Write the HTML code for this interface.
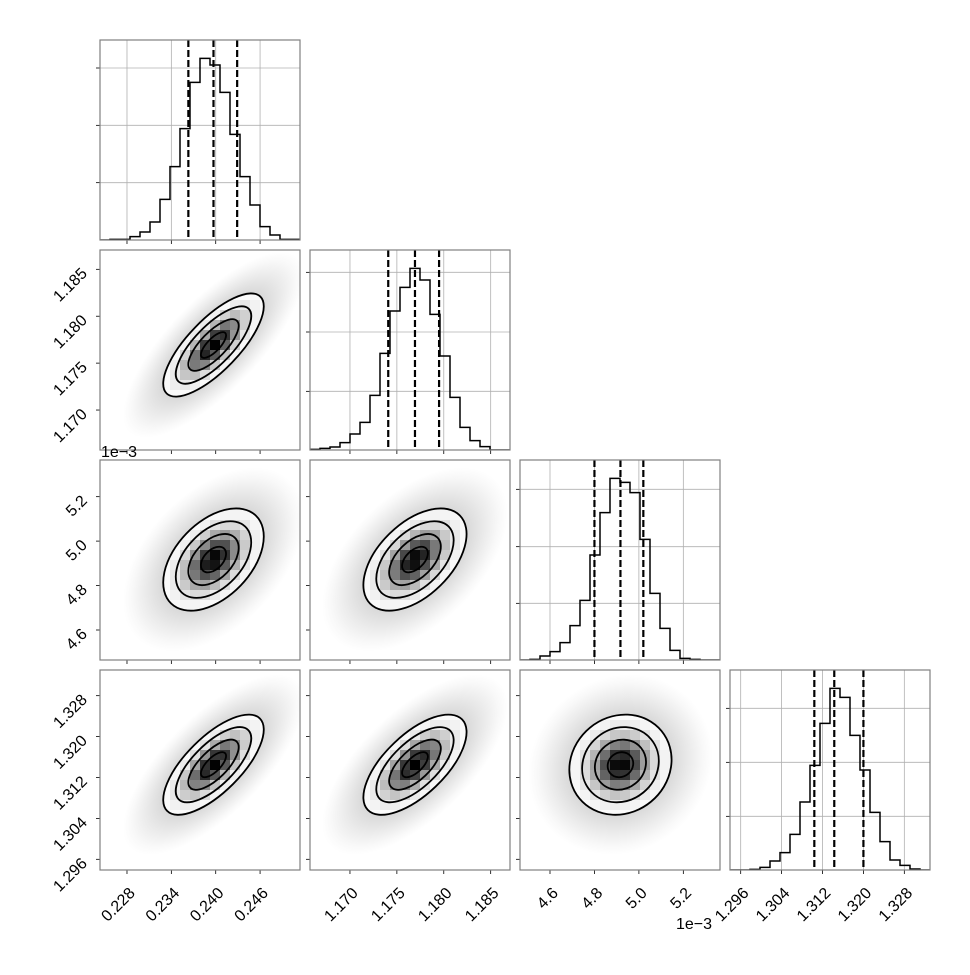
<!DOCTYPE html>
<html><head><meta charset="utf-8"><style>
body{margin:0;background:#fff}
#fig text{font-family:"Liberation Sans",sans-serif;font-size:16px;}
</style></head><body>
<svg id="fig" width="970" height="970" viewBox="0 0 970 970"></svg>
<script>
// ---- data ----
const lo = [0.22435, 1.16574, 4.465, 1.29391];
const hi = [0.25140, 1.18706, 5.365, 1.33302];
const ticks0 = [0.228, 0.234, 0.240, 0.246];
const ticks1 = [1.170, 1.175, 1.180, 1.185];
const ticks2 = [4.6, 4.8, 5.0, 5.2];
const ticks3 = [1.296, 1.304, 1.312, 1.320, 1.328];
const tickLabels0 = ["0.228","0.234","0.240","0.246"];
const tickLabels1 = ["1.170","1.175","1.180","1.185"];
const tickLabels2 = ["4.6","4.8","5.0","5.2"];
const tickLabels3 = ["1.296","1.304","1.312","1.320","1.328"];
const hist0 = [0,2,2,10,24,54,122,220,334,473,545,525,443,317,190,105,40,15,2,2];
const hist1 = [2,5,9,22,48,83,164,290,417,488,545,510,407,282,158,68,28,10,0,0];
const hist2 = [0,2,12,25,52,103,179,315,442,545,533,502,362,200,95,29,5,2,0,0];
const hist3 = [0,0,2,8,27,52,107,204,314,440,545,518,404,300,173,85,30,14,3,0];
const histYTicks0 = [172,344,516];
const histYTicks1 = [176,354,533];
const histYTicks2 = [170,340,512];
const histYTicks3 = [161,323,485];
const quant0 = [0.2363, 0.2397, 0.2429];
const quant1 = [1.17408, 1.17693, 1.1795];
const quant2 = [4.80, 4.917, 5.02];
const quant3 = [1.3104, 1.3143, 1.3200];
const means = [0.2397, 1.17693, 4.917, 1.3145];
const sds = [0.0034, 0.00275, 0.115, 0.0049];
const corr10 = 0.75, corr20 = 0.45, corr21 = 0.5, corr30 = 0.7, corr31 = 0.65, corr32 = 0.1;
const histMax = 600;
const contourLevels = [0.5, 1, 1.5, 2];

const ticks=[ticks0,ticks1,ticks2,ticks3], labels=[tickLabels0,tickLabels1,tickLabels2,tickLabels3];
const hists=[hist0,hist1,hist2,hist3], hyt=[histYTicks0,histYTicks1,histYTicks2,histYTicks3];
const quants=[quant0,quant1,quant2,quant3];
const corr=[[1,corr10,corr20,corr30],[corr10,1,corr21,corr31],[corr20,corr21,1,corr32],[corr30,corr31,corr32,1]];
const colX=[100,310,520,730], rowY=[40,250,460,670], S=200;
const NS="http://www.w3.org/2000/svg", svg=document.getElementById('fig');
function mk(tag,attrs,parent){const e=document.createElementNS(NS,tag);for(const k in attrs)e.setAttribute(k,attrs[k]);(parent||svg).appendChild(e);return e;}
function xs(j,v){return colX[j]+(v-lo[j])/(hi[j]-lo[j])*S;}
function ys(i,v){return rowY[i]+S-(v-lo[i])/(hi[i]-lo[i])*S;}
const TS='font-family:Liberation Sans,sans-serif;font-size:16px';
const defs=mk('defs',{});
const grad=mk('radialGradient',{id:'cloud'},defs);
[[0,0.4],[0.55,0.35],[0.75,0.18],[0.9,0.06],[1,0]].forEach(s=>mk('stop',{offset:s[0],'stop-color':'#909090','stop-opacity':s[1]},grad));

for(let i=0;i<4;i++){for(let j=0;j<=i;j++){
  const X=colX[j],Y=rowY[i];
  const g=mk('g',{});
  
  
  const cid='clip'+i+j;
  const cp=mk('clipPath',{id:cid},defs); mk('rect',{x:X,y:Y,width:S,height:S},cp);
  const inner=mk('g',{'clip-path':'url(#'+cid+')'},g);
  if(i===j){
    const h=hists[j];
    ticks[j].forEach(t=>mk('line',{x1:xs(j,t),x2:xs(j,t),y1:Y,y2:Y+S,stroke:'#b0b0b0','stroke-width':0.8},inner));
    hyt[j].forEach(t=>{const yy=Y+S-t/histMax*S;mk('line',{x1:X,x2:X+S,y1:yy,y2:yy,stroke:'#b0b0b0','stroke-width':0.8},inner);});
    let d='',bw=(hi[j]-lo[j])/h.length;
    h.forEach((c,k)=>{const x0=xs(j,lo[j]+k*bw),x1=xs(j,lo[j]+(k+1)*bw),yy=Y+S-c/histMax*S;d+=(k===0?'M'+x0+','+(Y+S)+'L'+x0+','+yy:'L'+x0+','+yy)+'L'+x1+','+yy;});
    const p=mk('path',{d:d,fill:'none',stroke:'#000','stroke-width':1.5},inner);
    
    
    quants[j].forEach(q=>{const l=mk('line',{x1:xs(j,q),x2:xs(j,q),y1:Y,y2:Y+S,stroke:'#000','stroke-width':2.2,'stroke-dasharray':'7,3'},inner);
      
      });
    hyt[j].forEach(t=>{const yy=Y+S-t/histMax*S;mk('line',{x1:X-4,x2:X,y1:yy,y2:yy,stroke:'#000','stroke-width':0.8},g);});
  } else {
    const sx=sds[j]*S/(hi[j]-lo[j]), sy=sds[i]*S/(hi[i]-lo[i]), rp=-corr[i][j];
    const a=sx*sx,c=sy*sy,b=rp*sx*sy,det=a*c-b*b;
    const m=(a+c)/2, r=Math.sqrt(((a-c)/2)**2+b*b), l1=m+r, l2=m-r;
    const th=0.5*Math.atan2(2*b,a-c)*180/Math.PI;
    const cx=xs(j,means[j]), cy=ys(i,means[i]);
    const ell=(k,attrs,par)=>mk('ellipse',Object.assign({cx:cx,cy:cy,rx:k*Math.sqrt(l1),ry:k*Math.sqrt(l2),transform:'rotate('+th+' '+cx+' '+cy+')'},attrs),par);
    ell(3.6,{fill:'url(#cloud)'},inner);
    ell(2,{fill:'#fff'},inner);
    const ecp=mk('clipPath',{id:'e'+cid},defs); ell(2,{},ecp);
    const cells=mk('g',{'clip-path':'url(#e'+cid+')'},inner);
    for(let u=0;u<20;u++)for(let v=0;v<20;v++){
      const px=X+u*10+5-cx, py=Y+v*10+5-cy;
      const q=(c*px*px-2*b*px*py+a*py*py)/det;
      if(q>6.5)continue;
      const dd=Math.exp(-q/2);
      const gv=Math.round(255*(1-dd*dd));
      mk('rect',{x:X+u*10,y:Y+v*10,width:10.3,height:10.3,fill:'rgb('+gv+','+gv+','+gv+')'},cells);
    }
    contourLevels.forEach(k=>{const e=ell(k,{fill:'none',stroke:'#000','stroke-width':1.8},inner);
      
      });
    ticks[i].forEach(t=>{const yy=ys(i,t);mk('line',{x1:X-4,x2:X,y1:yy,y2:yy,stroke:'#000','stroke-width':0.8},g);});
  }
  ticks[j].forEach(t=>{const xx=xs(j,t);mk('line',{x1:xx,x2:xx,y1:Y+S,y2:Y+S+4,stroke:'#000','stroke-width':0.8},g);});
  mk('rect',{x:X,y:Y,width:S,height:S,fill:'none',stroke:'#808080','stroke-width':1.2},g);
}}
for(let j=0;j<4;j++){ticks[j].forEach((t,k)=>{const xx=xs(j,t)+9,yy=894;
  const tx=mk('text',{x:xx,y:yy,'text-anchor':'end','font-size':'16',style:TS,transform:'rotate(-45 '+xx+' '+yy+')'});tx.textContent=labels[j][k];
  
  });}
for(let i=1;i<4;i++){ticks[i].forEach((t,k)=>{const xx=88,yy=ys(i,t)+5;
  const tx=mk('text',{x:xx,y:yy,'text-anchor':'end','font-size':'16',style:TS,transform:'rotate(-45 '+xx+' '+yy+')'});tx.textContent=labels[i][k];
  
  });}
const o1=mk('text',{x:101,y:457,'font-size':'16',style:TS});o1.textContent='1e\u22123';


const o2=mk('text',{x:676,y:929,'font-size':'16',style:TS});o2.textContent='1e\u22123';


</script>
</body></html>
